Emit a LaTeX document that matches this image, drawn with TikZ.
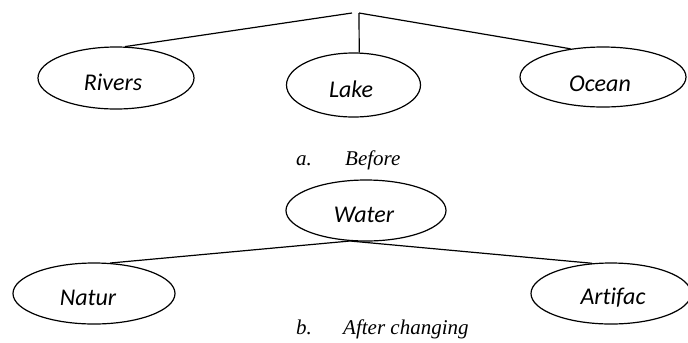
\documentclass[tikz,border=0pt]{standalone}
\usepackage{fontspec}
\setmainfont{Liberation Serif}
\newfontfamily\calfont[Ligatures=NoCommon]{Carlito}
\usetikzlibrary{shapes.geometric}
\begin{document}
\begin{tikzpicture}[x=1bp,y=-1bp,
  oval/.style={draw, ellipse, line width=1.2bp, inner sep=0pt},
  lbl/.style={anchor=base, inner sep=0pt, font=\calfont\itshape\fontsize{24bp}{26bp}\selectfont},
  captxt/.style={anchor=base west, inner sep=0pt, font=\itshape\fontsize{21bp}{23bp}\selectfont},
  edgeline/.style={line width=1.2bp}]
\useasboundingbox (0,0) rectangle (688,342);
% before
\node[oval, minimum width=156bp, minimum height=62bp] (rivers) at (116,78) {};
\node[oval, minimum width=134bp, minimum height=64bp] (lake) at (353.5,85) {};
\node[oval, minimum width=166bp, minimum height=60bp] (ocean) at (603,77) {};
\node[lbl] (riverst) at (113,90) {Rivers};
\node[lbl] (laket) at (351,97) {Lake};
\node[lbl] (oceant) at (600,91) {Ocean};
\coordinate (jl) at (352,13);
\coordinate (jr) at (359,13);
\draw[edgeline] (rivers.74) -- (jl);
\draw[edgeline] (jr) -- (lake.80);
\draw[edgeline] (jr) -- (ocean.139);
\node[captxt] (capa) at (296,165) {a.};
\node[captxt] (capat) at (345,165) {Before};
% after
\node[oval, minimum width=160bp, minimum height=61bp] (water) at (366,210.5) {};
\node[oval, minimum width=162bp, minimum height=61bp] (natur) at (94,293.5) {};
\node[oval, minimum width=160bp, minimum height=61bp] (artifac) at (611,293.5) {};
\node[lbl] (watert) at (364,222) {Water};
\node[lbl] (naturt) at (88,305) {Natur};
\node[lbl] (artifact) at (613,304) {Artifac};
\coordinate (wb) at (350,241);
\draw[edgeline] (wb) -- (natur.62);
\draw[edgeline] (wb) -- (artifac.122);
\node[captxt] (capb) at (296,334) {b.};
\node[captxt] (capbt) at (343,334) {After changing};
\end{tikzpicture}
\end{document}
